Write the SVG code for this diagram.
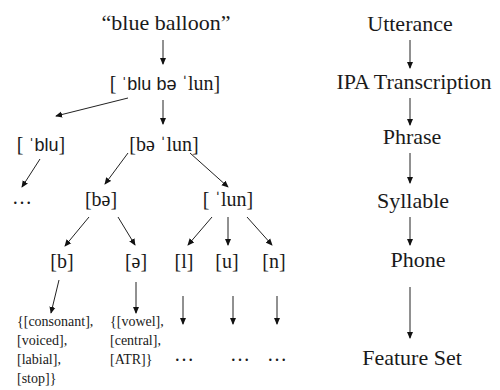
<svg xmlns="http://www.w3.org/2000/svg" width="500" height="390" viewBox="0 0 500 390">
<defs>
<marker id="ah" viewBox="0 0 8 8" refX="7" refY="4" markerWidth="7" markerHeight="7" markerUnits="userSpaceOnUse" orient="auto">
<path d="M0,0.5 L8,4 L0,7.5 z" fill="#111"/>
</marker>
<style>
text{fill:#1a1a1a}
.big{font-size:22px}
.mid{font-size:20px}
.ph{font-size:20px}
.ft{font-size:14px}
.sans{font-size:18px}
.c line{stroke:#222;stroke-width:1;marker-end:url(#ah)}
</style>
</defs>
<rect width="500" height="390" fill="#fff"/>
<g class="c" id="connectors">
<line x1="163" y1="40" x2="163" y2="64"/>
<line x1="128" y1="98" x2="56" y2="116"/>
<line x1="163" y1="100" x2="163" y2="124"/>
<line x1="40" y1="159" x2="22" y2="187"/>
<line x1="128" y1="153" x2="105" y2="184"/>
<line x1="190" y1="153" x2="228" y2="187"/>
<line x1="89" y1="217" x2="65" y2="246"/>
<line x1="118" y1="217" x2="135" y2="245"/>
<line x1="212" y1="217" x2="188" y2="245"/>
<line x1="228" y1="217" x2="228" y2="245"/>
<line x1="247" y1="217" x2="272" y2="245"/>
<line x1="59" y1="280" x2="51" y2="313"/>
<line x1="136" y1="282" x2="136" y2="313"/>
<line x1="183" y1="296" x2="183" y2="324"/>
<line x1="233" y1="296" x2="233" y2="324"/>
<line x1="277" y1="296" x2="277" y2="324"/>
<line x1="410" y1="40" x2="410" y2="68"/>
<line x1="410" y1="98" x2="410" y2="125"/>
<line x1="410" y1="153" x2="410" y2="183"/>
<line x1="410" y1="217" x2="410" y2="245"/>
<line x1="410" y1="287" x2="410" y2="338"/>
</g>
<g font-family="'Liberation Serif', 'Times New Roman', serif">
<g id="utterance-ex"><text class="big" x="166" y="30" text-anchor="middle">“blue balloon”</text></g>
<g id="ipa-ex"><text class="mid" x="165" y="90" text-anchor="middle">[ <tspan class="sans" font-family="'Liberation Sans', Arial, sans-serif">ˈblu bə</tspan> ˈlun]</text></g>
<g id="blu"><text class="mid" x="41" y="151" text-anchor="middle">[ <tspan class="sans" font-family="'Liberation Sans', Arial, sans-serif">ˈblu</tspan>]</text></g>
<g id="balun"><text class="mid" x="164" y="151" text-anchor="middle">[bə ˈlun]</text></g>
<g id="blu-dots"><text class="ph" x="22" y="204" text-anchor="middle">…</text></g>
<g id="be"><text class="ph" x="101" y="206" text-anchor="middle">[bə]</text></g>
<g id="lun"><text class="ph" x="228" y="206" text-anchor="middle">[ ˈlun]</text></g>
<g id="b"><text class="ph" x="62" y="268" text-anchor="middle">[b]</text></g>
<g id="schwa"><text class="ph" x="136" y="268" text-anchor="middle">[ə]</text></g>
<g id="l"><text class="ph" x="184" y="268" text-anchor="middle">[l]</text></g>
<g id="u"><text class="ph" x="227" y="268" text-anchor="middle">[u]</text></g>
<g id="n"><text class="ph" x="274" y="268" text-anchor="middle">[n]</text></g>
<g id="feat-b"><text class="ft" x="17" y="326">{[consonant],</text><text class="ft" x="17" y="345">[voiced],</text><text class="ft" x="17" y="364">[labial],</text><text class="ft" x="17" y="383">[stop]}</text></g>
<g id="feat-schwa"><text class="ft" x="110" y="326">{[vowel],</text><text class="ft" x="110" y="345">[central],</text><text class="ft" x="110" y="364">[ATR]}</text></g>
<g id="feat-l"><text class="ph" x="184" y="361" text-anchor="middle">…</text></g>
<g id="feat-u"><text class="ph" x="240" y="361" text-anchor="middle">…</text></g>
<g id="feat-n"><text class="ph" x="277" y="361" text-anchor="middle">…</text></g>
<g id="lvl-utterance"><text class="big" x="410" y="31" text-anchor="middle">Utterance</text></g>
<g id="lvl-ipa"><text class="big" x="414" y="89" text-anchor="middle">IPA Transcription</text></g>
<g id="lvl-phrase"><text class="big" x="412" y="144" text-anchor="middle">Phrase</text></g>
<g id="lvl-syllable"><text class="big" x="413" y="208" text-anchor="middle">Syllable</text></g>
<g id="lvl-phone"><text class="big" x="418" y="267" text-anchor="middle">Phone</text></g>
<g id="lvl-feature"><text class="big" x="412" y="365" text-anchor="middle">Feature Set</text></g>
</g>
</svg>
